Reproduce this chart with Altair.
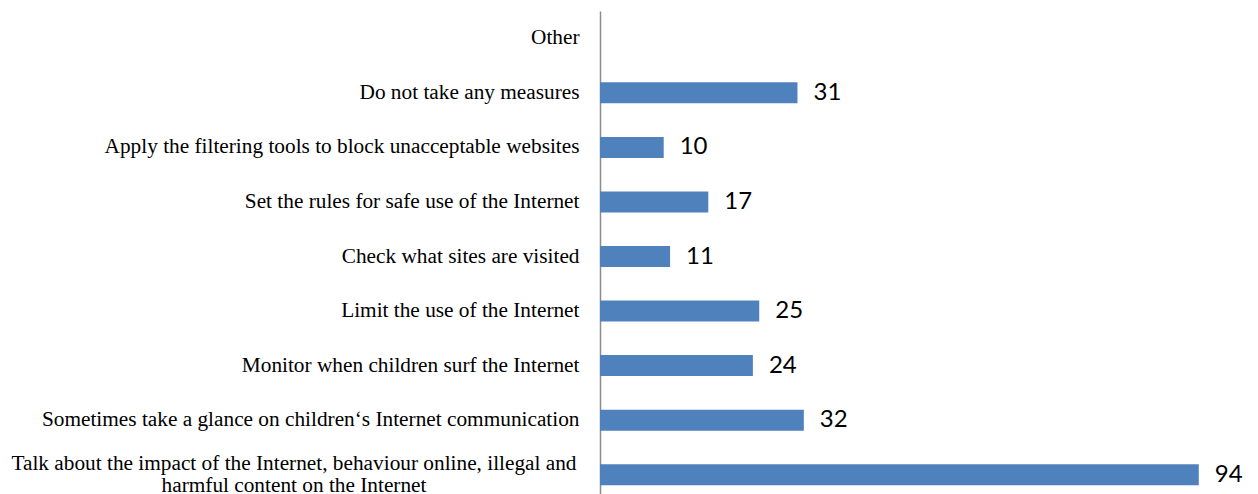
import altair as alt
import pandas as pd

categories = [
    "Other",
    "Do not take any measures\u00a0",
    "Apply the filtering tools to block unacceptable websites",
    "Set the rules for safe use of the Internet",
    "Check what sites are visited",
    "Limit the use of the Internet",
    "Monitor when children surf the Internet",
    "Sometimes take a glance on children\u2018s Internet communication",
    "Talk about the impact of the Internet, behaviour online, illegal and\nharmful content on the Internet",
]
values = [None, 31, 10, 17, 11, 25, 24, 32, 94]

df = pd.DataFrame({"cat": categories, "val": values})
long_label = categories[-1]

y_enc = alt.Y(
    "cat:N",
    sort=categories,
    scale=alt.Scale(paddingInner=0.615, paddingOuter=0.3075),
    axis=alt.Axis(
        title=None,
        ticks=False,
        labelFont="Liberation Serif",
        labelFontSize=21.3,
        labelColor="#000000",
        labelPadding=21,
        labelLimit=0,
        domainColor="#8c8c8c",
        domainWidth=1.5,
        labelExpr="indexof(datum.label, '\\n') >= 0 ? '' : datum.label",
    ),
)

x_enc = alt.X(
    "val:Q",
    scale=alt.Scale(domain=[0, 100], nice=False, zero=True),
    axis=None,
)

bars = alt.Chart(df).mark_bar(color="#4F81BD").encode(x=x_enc, y=y_enc)

vals = alt.Chart(df).mark_text(
    align="left", baseline="middle", dx=16, font="Lato", fontSize=24, color="#000000"
).encode(x=x_enc, y=alt.Y("cat:N", sort=categories), text=alt.Text("val:Q"))

long_df = pd.DataFrame({"cat": [long_label], "txt": [long_label]})
long_txt = alt.Chart(long_df).mark_text(
    align="center", baseline="middle", font="Liberation Serif", fontSize=21.3,
    color="#000000", lineBreak="\n", lineHeight=22, dy=-11
).encode(x=alt.value(-306), y=alt.Y("cat:N", sort=categories), text="txt:N")

chart = (
    alt.layer(bars, vals, long_txt)
    .properties(
        width=637,
        height=491,
        background="#ffffff",
        autosize=alt.AutoSizeParams(type="none"),
        padding={"left": 592, "top": 3, "right": 10, "bottom": 0},
    )
    .configure_view(stroke="transparent", strokeWidth=0)
)

chart.save("out.html", embed_options={"renderer": "svg", "actions": False})
